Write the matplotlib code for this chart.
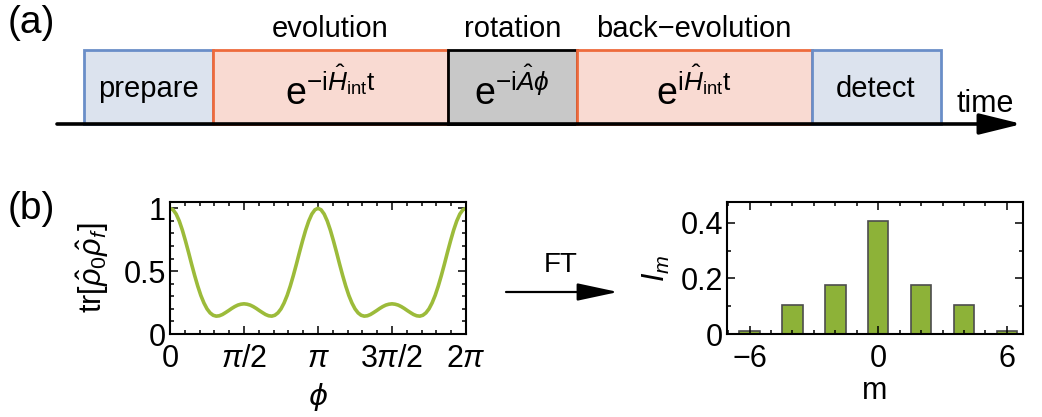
import numpy as np
import matplotlib

matplotlib.use("Agg")
import matplotlib.pyplot as plt
from matplotlib.patches import Rectangle
from matplotlib.ticker import MultipleLocator, FixedLocator

plt.rcParams["font.family"] = ["Liberation Sans", "DejaVu Sans"]
plt.rcParams["mathtext.fontset"] = "custom"
plt.rcParams["mathtext.rm"] = "Liberation Sans"
plt.rcParams["mathtext.it"] = "Liberation Sans:italic"
plt.rcParams["mathtext.bf"] = "Liberation Sans:bold"

# ---- panel (a): sequence of stages ----
stage_text = [
    "prepare",
    r"$\mathrm{e}^{-\mathrm{i}\hat{H}_{\mathrm{int}}\mathrm{t}}$",
    r"$\mathrm{e}^{-\mathrm{i}\hat{A}\phi}$",
    r"$\mathrm{e}^{\mathrm{i}\hat{H}_{\mathrm{int}}\mathrm{t}}$",
    "detect",
]
stage_titles = ["", "evolution", "rotation", "back\u2212evolution", ""]
stage_lengths = [1.0, 1.82, 1.0, 1.82, 1.0]
stage_kind = ["io", "evo", "rot", "evo", "io"]

# ---- panel (b): overlap vs phi, sampled every pi/48 ----
overlap = [
    1.000, 0.988, 0.954, 0.899, 0.827, 0.742, 0.651, 0.556, 0.465, 0.381,
    0.307, 0.247, 0.200, 0.168, 0.149, 0.142, 0.145, 0.155, 0.170, 0.186,
    0.203, 0.218, 0.230, 0.237, 0.240, 0.237, 0.230, 0.218, 0.203, 0.186,
    0.170, 0.155, 0.145, 0.142, 0.149, 0.168, 0.200, 0.247, 0.307, 0.381,
    0.465, 0.556, 0.651, 0.742, 0.827, 0.899, 0.954, 0.988, 1.000, 0.988,
    0.954, 0.899, 0.827, 0.742, 0.651, 0.556, 0.465, 0.381, 0.307, 0.247,
    0.200, 0.168, 0.149, 0.142, 0.145, 0.155, 0.170, 0.186, 0.203, 0.218,
    0.230, 0.237, 0.240, 0.237, 0.230, 0.218, 0.203, 0.186, 0.170, 0.155,
    0.145, 0.142, 0.149, 0.168, 0.200, 0.247, 0.307, 0.381, 0.465, 0.556,
    0.651, 0.742, 0.827, 0.899, 0.954, 0.988, 1.000,
]
phi = np.linspace(0, 2 * np.pi, len(overlap))
phi_ticks = [0, np.pi / 2, np.pi, 3 * np.pi / 2, 2 * np.pi]
phi_ticklabels = ["0", r"$\pi/2$", r"$\pi$", r"$3\pi/2$", r"$2\pi$"]

# ---- panel (b): Fourier components ----
m_values = [-6, -4, -2, 0, 2, 4, 6]
I_m = [0.012, 0.105, 0.177, 0.407, 0.177, 0.105, 0.012]

W, H = 1042, 417
fig = plt.figure(figsize=(W / 100, H / 100), dpi=100)

# overlay axes in pixel units for the diagram parts
ov = fig.add_axes([0, 0, 1, 1])
ov.set_xlim(0, W)
ov.set_ylim(H, 0)
ov.axis("off")

styles = {
    "io": dict(fc="#dce3ee", ec="#6a8ec8"),
    "evo": dict(fc="#f9dad2", ec="#ee6a3c"),
    "rot": dict(fc="#c8c8c8", ec="black"),
}
x0, scale = 84, 129
box_top, line_y = 50, 124
x = x0
for txt, title, length, kind in zip(stage_text, stage_titles, stage_lengths, stage_kind):
    w = length * scale
    ov.add_patch(Rectangle((x, box_top), w, line_y - box_top, lw=2.0, **styles[kind]))
    xc = x + w / 2
    if txt.startswith("$"):
        ov.text(xc, 91, txt, ha="center", va="center", fontsize=27)
    else:
        ov.text(xc, 89, txt, ha="center", va="center", fontsize=21)
    if title:
        ov.text(xc, 37, title, ha="center", va="baseline", fontsize=21)
    x += w

ov.annotate("", xy=(1022, line_y), xytext=(57, line_y),
            arrowprops=dict(arrowstyle="-|>,head_length=1.3,head_width=0.32",
                            lw=2.6, color="black", shrinkA=0, shrinkB=0,
                            mutation_scale=20))
ov.text(985, 112, "time", ha="center", va="baseline", fontsize=22)
ov.text(8, 33, "(a)", ha="left", va="baseline", fontsize=28)
ov.text(8, 219, "(b)", ha="left", va="baseline", fontsize=28)

# FT arrow
ov.annotate("", xy=(618, 292), xytext=(506, 292),
            arrowprops=dict(arrowstyle="-|>,head_length=1.4,head_width=0.3",
                            lw=1.6, color="black", shrinkA=0, shrinkB=0,
                            mutation_scale=18))
ov.text(561, 272, "FT", ha="center", va="baseline", fontsize=20)


def frame_style(ax):
    for s in ax.spines.values():
        s.set_linewidth(1.5)
    ax.tick_params(which="both", direction="in", top=True, right=True,
                   labelsize=22, width=1.1)
    ax.tick_params(which="major", length=6)
    ax.tick_params(which="minor", length=3)
    ax.tick_params(axis="x", pad=7)
    ax.tick_params(axis="y", pad=3)


ax_top, ax_h, ax_w = 202, 132, 296

# left: overlap curve
ax1 = fig.add_axes([170 / W, (H - ax_top - ax_h) / H, ax_w / W, ax_h / H])
ax1.plot(phi, overlap, color="#9cbb3a", lw=2.6)
ax1.set_xlim(0, 2 * np.pi)
ax1.set_ylim(0, 1.05)
ax1.set_xticks(phi_ticks)
ax1.set_xticklabels(phi_ticklabels)
ax1.xaxis.set_minor_locator(MultipleLocator(np.pi / 10))
ax1.set_yticks([0, 0.5, 1])
ax1.set_yticklabels(["0", "0.5", "1"])
ax1.yaxis.set_minor_locator(MultipleLocator(0.1))
frame_style(ax1)
ax1.set_xlabel("\u03d5", fontsize=21, fontstyle="italic",
               family=["DejaVu Sans"])
ax1.xaxis.set_label_coords(0.5, -0.37)
ax1.set_ylabel(r"$\mathrm{tr}[\hat{\rho}_0\hat{\rho}_f]$", fontsize=22)
ax1.yaxis.set_label_coords(-0.20, 0.5)

# right: Fourier components
ax2 = fig.add_axes([727 / W, (H - ax_top - ax_h) / H, ax_w / W, ax_h / H])
ax2.bar(m_values, I_m, width=0.95, color="#8db238", edgecolor="#4d4d4d", lw=1.2)
ax2.set_xlim(-7.05, 6.75)
ax2.set_ylim(0, 0.475)
ax2.set_xticks([-6, 0, 6])
ax2.xaxis.set_minor_locator(FixedLocator(np.arange(-7, 7)))
ax2.set_yticks([0, 0.2, 0.4])
ax2.set_yticklabels(["0", "0.2", "0.4"])
ax2.yaxis.set_minor_locator(MultipleLocator(0.1))
frame_style(ax2)
ax2.set_xlabel("m", fontsize=22)
ax2.xaxis.set_label_coords(0.5, -0.32)
ax2.set_ylabel(r"$I_m$", fontsize=22)
ax2.yaxis.set_label_coords(-0.185, 0.5)

fig.savefig("out.png", dpi=100)
